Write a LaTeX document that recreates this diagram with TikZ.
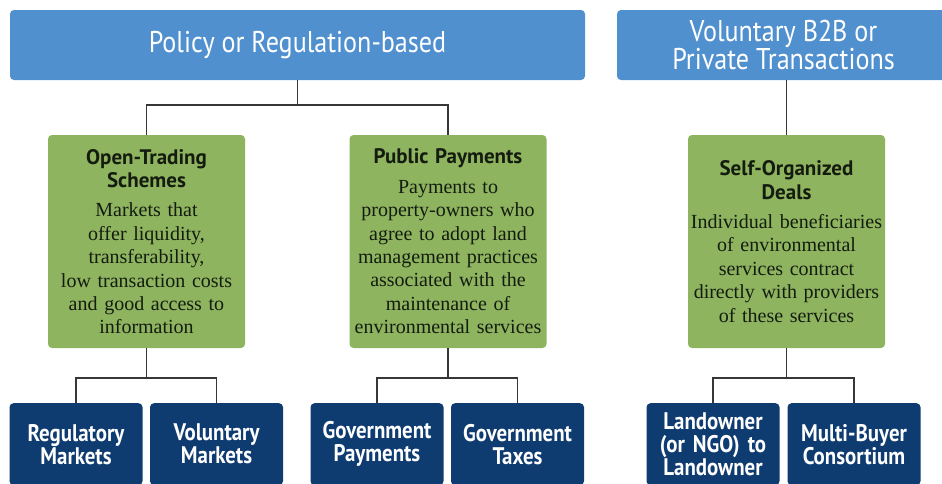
\documentclass[tikz,border=0pt]{standalone}
\usepackage{fontspec}
\setmainfont{Liberation Serif}
\newfontfamily\condfont[FakeStretch=0.87]{PT Sans}
\newfontfamily\titlefont{PT Sans}
\definecolor{topblue}{RGB}{80,144,206}
\definecolor{boxgreen}{RGB}{143,180,96}
\definecolor{navy}{RGB}{14,59,112}
\definecolor{linegray}{RGB}{55,55,55}
\definecolor{textdark}{RGB}{20,28,15}
\tikzset{
  topbox/.style={fill=topblue, rounded corners=4pt, draw=none, minimum height=70pt,
    text=white, font=\condfont\fontsize{30}{28}\selectfont, align=center, inner sep=0pt},
  greenbox/.style={fill=boxgreen, rounded corners=4pt, draw=none, minimum width=197pt,
    minimum height=213pt, text width=196pt, align=center, inner sep=0pt, text=textdark,
    font=\fontsize{20}{23.4}\selectfont},
  navybox/.style={fill=navy, rounded corners=4pt, draw=none, minimum width=133pt,
    minimum height=82pt, text width=132pt, align=center, inner sep=0pt, text=white,
    font=\condfont\bfseries\fontsize{24}{23}\selectfont, anchor=north},
  conn/.style={draw=linegray, line width=1.3pt}
}
\newcommand{\gtitle}[1]{{\titlefont\bfseries\fontsize{21}{23}\selectfont #1}}
\begin{document}
\begin{tikzpicture}[x=1pt,y=-1pt]
\useasboundingbox (0,0) rectangle (942,483);
% top boxes
\node[topbox, minimum width=575pt] (pol) at (297.5,45) {Policy or Regulation-based};
\node[topbox, minimum width=333pt] (vol) at (783.5,45) {Voluntary B2B or\\Private Transactions};
% green boxes
\node[greenbox] (ots) at (146.5,241.5) {\gtitle{Open-Trading}\\\gtitle{Schemes}\\[6pt]
  Markets that\\offer liquidity,\\transferability,\\low transaction costs\\and good access to\\information};
\node[greenbox] (pp) at (448,241.5) {\gtitle{Public Payments}\\[6pt]
  Payments to\\property-owners who\\agree to adopt land\\management practices\\associated with the\\maintenance of\\environmental services};
\node[greenbox] (sod) at (786.5,241.5) {\gtitle{Self-Organized}\\\gtitle{Deals}\\[6pt]
  Individual beneficiaries\\of environmental\\services contract\\directly with providers\\of these services};
% navy boxes
\node[navybox] (reg) at (76,403) {Regulatory\\Markets};
\node[navybox] (vm) at (216.5,403) {Voluntary\\Markets};
\node[navybox] (gp) at (377,403) {Government\\Payments};
\node[navybox] (gt) at (517.5,403) {Government\\Taxes};
\node[navybox] (lo) at (713,403) {Landowner\\(or NGO) to\\Landowner};
\node[navybox] (mbc) at (854,403) {Multi-Buyer\\Consortium};
% junctions
\coordinate (j1) at (297.5,105);
\coordinate (j2) at (146.5,378);
\coordinate (j3) at (448,378);
\coordinate (j4) at (786.5,378);
% connectors
\draw[conn] (pol.south) -- (j1);
\draw[conn] (j1) -| (ots.north);
\draw[conn] (j1) -| (pp.north);
\draw[conn] (vol.south -| sod.north) -- (sod.north);
\draw[conn] (ots.south) -- (j2);
\draw[conn] (j2) -| (reg.north);
\draw[conn] (j2) -| (vm.north);
\draw[conn] (pp.south) -- (j3);
\draw[conn] (j3) -| (gp.north);
\draw[conn] (j3) -| (gt.north);
\draw[conn] (sod.south) -- (j4);
\draw[conn] (j4) -| (lo.north);
\draw[conn] (j4) -| (mbc.north);
\end{tikzpicture}
\end{document}
